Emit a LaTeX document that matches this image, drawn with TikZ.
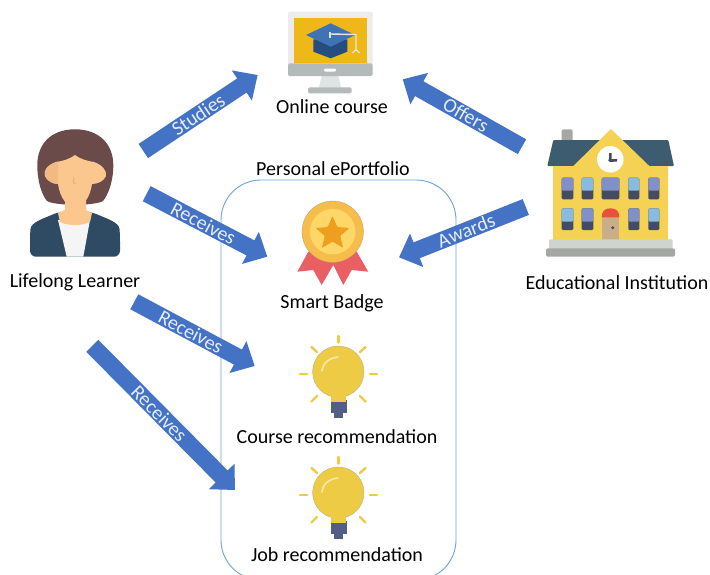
\documentclass[tikz,border=0pt]{standalone}
\usepackage{fontspec}
\setmainfont{Carlito}
\usetikzlibrary{arrows.meta}
\definecolor{arrowblue}{HTML}{4472C4}
\definecolor{boxblue}{HTML}{6FA3D8}
\definecolor{labelwhite}{HTML}{E4ECF8}
\definecolor{bulbyellow}{HTML}{EDCB45}
\definecolor{bulbneck}{HTML}{525E85}
\definecolor{winblue}{HTML}{88BBE0}
\definecolor{winpurple}{HTML}{8090C8}
\definecolor{windark}{HTML}{434C60}
\definecolor{skin}{HTML}{FBC78F}
\definecolor{skinshade}{HTML}{F2BA82}
\definecolor{hair}{HTML}{6B4A4A}
\definecolor{jacket}{HTML}{2F4A63}
\definecolor{stone}{HTML}{A5A7A3}
\definecolor{monitorgrey}{HTML}{B4B9B9}
\definecolor{screenyellow}{HTML}{EEB918}
\definecolor{standgrey}{HTML}{DFE3E2}
\definecolor{capdark}{HTML}{264D80}
\definecolor{capblue}{HTML}{3E74B5}
\definecolor{roof}{HTML}{3E5C70}
\definecolor{wall}{HTML}{F5D253}
\definecolor{door}{HTML}{C9AE88}
\definecolor{doortop}{HTML}{E8513A}
\definecolor{plinth}{HTML}{D0D4D0}
\definecolor{ribbon}{HTML}{EA5F63}
\definecolor{medal}{HTML}{F5BE4B}
\definecolor{medalin}{HTML}{FFD768}
\definecolor{medalstar}{HTML}{EE9F1F}
\tikzset{
  caption/.style={font=\fontsize{20}{22}\selectfont,text=black,inner sep=0pt},
  flow/.style={line width=17pt,arrowblue,-{Triangle[length=19pt,width=35pt]}},
  flowlabel/.style={sloped,font=\fontsize{20}{22}\selectfont,text=labelwhite,inner sep=0pt},
  ray/.style={bulbyellow,line width=2.4pt,line cap=round},
  win/.style={rounded corners=1.2pt},
}
\newcommand{\facepath}{(75,155) .. controls (68,160) and (62,161) .. (56,162)
  .. controls (48,165) and (43,170) .. (45,176) .. controls (47,181) and (53,184) .. (58,184)
  .. controls (60,198) and (67,207) .. (75,207) .. controls (83,207) and (90,198) .. (92,184)
  .. controls (98,184) and (104,181) .. (106,176) .. controls (107,170) and (102,165) .. (94,162)
  .. controls (88,161) and (82,160) .. (75,155) -- cycle}
\newcommand{\bulb}[1]{%
  \begin{scope}[yshift=#1]
    \draw[ray] (338.3,336) -- (338.3,342.5);
    \draw[ray] (300,374) -- (307,374);
    \draw[ray] (370,374) -- (377,374);
    \draw[ray] (311.5,347) -- (317,352);
    \draw[ray] (365.5,347) -- (360,352);
    \draw[ray] (317,396) -- (311.5,401.5);
    \draw[ray] (360,396) -- (365.5,401.5);
    \fill[bulbneck] (330.7,400) rectangle (346.7,413);
    \fill[bulbneck] (334,413) rectangle (343.3,418.3);
    \fill[bulbyellow,draw=stone!70!bulbyellow,line width=.4pt] (338.3,371.7) circle (25.7);
    \fill[bulbyellow] (331,396) rectangle (346.3,402);
    \draw[white!55!bulbyellow,line width=1.6pt,line cap=round] (322,371) .. controls (323,362) and (330,358) .. (338,357);
  \end{scope}}
\begin{document}
\begin{tikzpicture}[x=1pt,y=-1pt]
\useasboundingbox (0,0) rectangle (710,574);
\clip (0,0) rectangle (710,574);
\fill[white] (0,0) rectangle (710,574);

% ePortfolio frame
\draw[boxblue,line width=.9pt,rounded corners=40pt] (221,180) rectangle (456,580);

% Monitor
\fill[gray!15,rounded corners=2pt] (288,65) -- (288,11.7) -- (372.7,11.7) -- (372.7,65) -- cycle;
\fill[screenyellow] (294.3,17.7) rectangle (366.7,63);
\fill[standgrey] (321.7,76) -- (338.3,76) -- (341,87.5) -- (319,87.5) -- cycle;
\fill[monitorgrey,rounded corners=1.5pt] (288,63.3) rectangle (372.7,76);
\fill[white,rounded corners=1.2pt] (324,68.5) rectangle (336,71.5);
\fill[monitorgrey,rounded corners=2pt] (308,87.3) rectangle (351.7,93.3);
\fill[capdark] (313.3,39.3) -- (313.3,51.7) -- (330.7,58.3) -- (347.3,51.7) -- (347.3,39.3) -- cycle;
\fill[capblue] (306,35) -- (330.7,23.3) -- (355,35) -- (330.7,46.7) -- cycle;
\draw[white!90!black,line width=1.4pt,line join=round] (330,34) -- (356,34.5) -- (356,50);
\draw[white!90!black,line width=1.4pt] (330,32) -- (330,38);
\draw[white!90!black,line width=1.2pt] (352.5,53) -- (356,49.5) -- (359.5,53);

% Lifelong learner
\fill[hair] (75,129.3) .. controls (50,129.3) and (37.3,145) .. (37.3,165)
  .. controls (37.3,182) and (42,195) .. (47,201)
  .. controls (55,206) and (95,206) .. (103,201)
  .. controls (108,195) and (113.3,182) .. (113.3,165)
  .. controls (113.3,145) and (100,129.3) .. (75,129.3) -- cycle;
\fill[jacket,rounded corners=6pt] (30,256.7) -- (30,235) .. controls (31,222) and (45,218) .. (58,212) -- (92,212) .. controls (105,218) and (119,222) .. (120,235) -- (120,256.7) -- cycle;
\fill[white!92!gray] (58,220) -- (90,220) -- (83.3,256.7) -- (66.7,256.7) -- cycle;
\fill[skin] (65,198) -- (86,198) -- (86,210) -- (92,213) -- (90,222) .. controls (82,226) and (68,226) .. (60,222) -- (58,213) -- (65,210) -- cycle;
\fill[skin] \facepath;
\begin{scope}
  \clip (40,150) rectangle (58,212);
  \fill[skinshade] \facepath;
\end{scope}
\draw[skinshade!85!black,line width=.5pt] (74,177) -- (73.5,183) -- (76,183);

% School
\fill[stone,rounded corners=2pt] (561.7,129.3) rectangle (572.7,151.7);
\fill[roof,rounded corners=1pt] (553.3,140) -- (668.3,140) -- (674,166) -- (547.3,166) -- cycle;
\fill[wall] (553.3,166) rectangle (668.3,240);
\fill[wall] (611,129) -- (649.3,166) -- (573.3,166) -- cycle;
\fill[white] (610.3,159.3) circle (13.3);
\fill[windark] (609,153) -- (611.5,153) -- (611.5,159) -- (617,159) -- (617,161.5) -- (610,162) .. controls (608,162) and (608,160) .. (609,158) -- cycle;
\foreach \xa/\xb/\c in {561.7/573.3/winpurple,581.7/593.3/winblue,601.7/619.3/winpurple,628.3/639.3/winblue,648.3/659.3/winpurple}{
  \fill[windark,win] (\xa,177.7) rectangle (\xb,199.3);
  \fill[\c,win] (\xa,177.7) rectangle (\xb,190.7);
}
\foreach \xa/\xb/\c in {561.7/573.3/winblue,581.7/593.3/winpurple,628.3/639.3/winpurple,648.3/659.3/winblue}{
  \fill[windark,win] (\xa,208.3) rectangle (\xb,230);
  \fill[\c,win] (\xa,208.3) rectangle (\xb,221.7);
}
\fill[door] (601.7,217) rectangle (619.3,240);
\fill[doortop] (601.7,217.3) .. controls (601.7,211) and (605,208.3) .. (610.5,208.3) .. controls (616,208.3) and (619.3,211) .. (619.3,217.3) -- cycle;
\fill[windark] (612.7,227.7) circle (1.6);
\fill[plinth,rounded corners=1pt] (549,239.3) rectangle (672.7,249);
\fill[stone,rounded corners=2pt] (546,248.3) rectangle (675,256.7);

% Badge
\fill[ribbon] (308.3,251.7) -- (297.3,271.7) -- (313.3,270) -- (321.7,285) -- (333.3,265) -- (343.3,285) -- (351.7,270) -- (368.3,271.7) -- (356.7,251.7) -- cycle;
\fill[medal,draw=stone!60!orange,line width=.3pt] (332.7,231.7) circle (30.7);
\fill[medalin] (332.7,231.7) circle (22.7);
\fill[medalstar,rounded corners=1pt] (332.5,216) -- (337.3,227) -- (349.5,228) -- (340.2,236) -- (343.2,248) -- (332.5,241.6) -- (321.8,248) -- (324.8,236) -- (315.5,228) -- (327.7,227) -- cycle;

% Bulbs
\bulb{0pt}
\bulb{-121pt}

% Captions
\node[caption] (course) at (332,106.5) {Online course};
\node[caption] (portfolio) at (333,168.5) {Personal ePortfolio};
\node[caption] (learner) at (75,282.5) {Lifelong Learner};
\node[caption] (institution) at (617,282.5) {Educational Institution};
\node[caption] (badge) at (332,303.5) {Smart Badge};
\node[caption] (courserec) at (337,436.5) {Course recommendation};
\node[caption] (jobrec) at (337,554.5) {Job recommendation};

% Connector end points
\coordinate (s1) at (143.3,151);
\coordinate (t1) at (257.7,75);
\coordinate (s2) at (146.7,193.7);
\coordinate (t2) at (267.3,256.7);
\coordinate (s3) at (522,146.7);
\coordinate (t3) at (402.7,79.3);
\coordinate (s4) at (525.8,207);
\coordinate (t4) at (399,257.3);
\coordinate (s5) at (134.3,301.8);
\coordinate (t5) at (254.7,366);
\coordinate (s6) at (92.3,345.8);
\coordinate (t6) at (235,490);

\draw[flow] (s1) -- (t1) node[flowlabel,pos=.48] (lstudies) {Studies};
\draw[flow] (s2) -- (t2) node[flowlabel,pos=.47] (lreceivesa) {Receives};
\draw[flow] (s3) -- (t3) node[flowlabel,pos=.47] (loffers) {Offers};
\draw[flow] (s4) -- (t4) node[flowlabel,pos=.47] (lawards) {Awards};
\draw[flow] (s5) -- (t5) node[flowlabel,pos=.47] (lreceivesb) {Receives};
\draw[flow] (s6) -- (t6) node[flowlabel,pos=.47] (lreceivesc) {Receives};
\end{tikzpicture}
\end{document}
